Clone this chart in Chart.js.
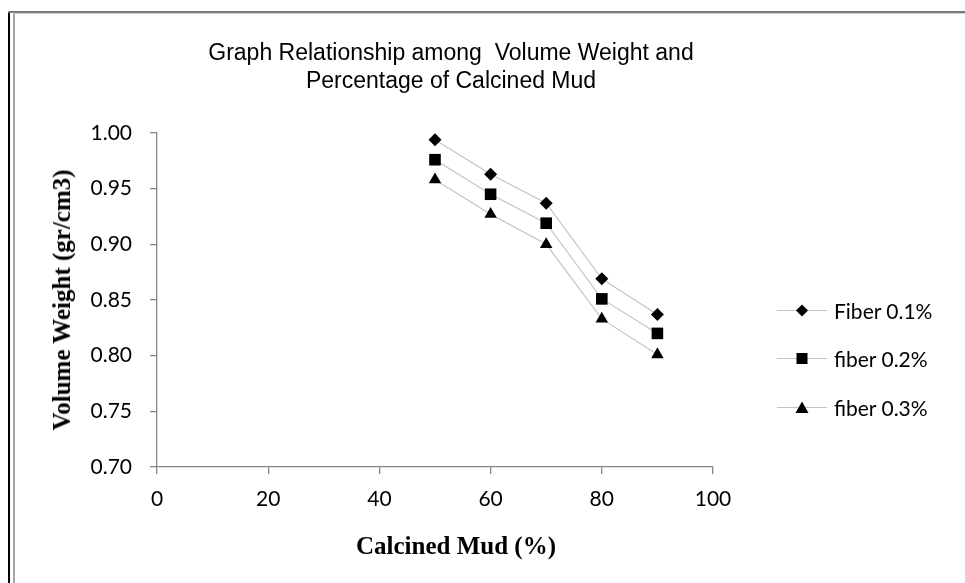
<!DOCTYPE html>
<html>
<head>
<meta charset="utf-8">
<script src="https://cdn.jsdelivr.net/npm/chart.js@4"></script>
<style>
    html, body { margin: 0; padding: 0; background: #fff; }
    #wrap { position: relative; width: 965px; height: 583px; overflow: hidden; }
    #wrap canvas { position: absolute; left: 0; top: 0; }
    .frame { position: absolute; }
    .txt { position: absolute; color: #000; white-space: nowrap; }
    #title { left: 0; width: 902px; top: 38px; text-align: center; font: 23px "Liberation Sans", Arial, sans-serif; line-height: 28px; }
    #xTitle { left: 0; width: 912px; top: 532px; text-align: center; font: bold 25px "Liberation Serif", "Times New Roman", serif; }
    #yTitle { left: 62px; top: 300px; transform: translate(-50%, -50%) rotate(-90deg); font: bold 25px "Liberation Serif", "Times New Roman", serif; }
    #legend { left: 777px; top: 286px; font: 21px Lato, sans-serif; }
    .item { display: flex; align-items: center; height: 48.5px; }
    .item svg { margin-right: 7px; }
</style>
</head>
<body>
<div id="wrap">
    <canvas id="chart" width="965" height="583"></canvas>
    <div class="frame" style="left:8px; top:11px; width:2px; height:572px; background:#000;"></div>
    <div class="frame" style="left:8px; top:11px; width:957px; height:2px; background:#7a7a7a;"></div>
    <div class="frame" style="left:13px; top:13px; width:2px; height:570px; background:#a6a6a6;"></div>
    <div class="frame" style="left:13px; top:13px; width:952px; height:1px; background:#d0d0d0;"></div>
    <div id="title" class="txt">Graph Relationship among&nbsp; Volume Weight and<br>Percentage of Calcined Mud</div>
    <div id="yTitle" class="txt">Volume Weight (gr/cm3)</div>
    <div id="xTitle" class="txt">Calcined Mud (%)</div>
    <div id="legend" class="txt"></div>
</div>
<script>
// calcined mud percentage (x)
const calcinedMud = [50, 60, 70, 80, 90];

// volume weight (gr/cm3) per fiber content
const fiber01 = [0.994, 0.963, 0.937, 0.869, 0.837];
const fiber02 = [0.976, 0.945, 0.919, 0.851, 0.820];
const fiber03 = [0.958, 0.927, 0.900, 0.833, 0.801];

const seriesNames = ['Fiber 0.1%', 'fiber 0.2%', 'fiber 0.3%'];

const xTicks = [0, 20, 40, 60, 80, 100];
const yTicks = [0.70, 0.75, 0.80, 0.85, 0.90, 0.95, 1.00];

const lineColor = '#c4c4c4';
const axisColor = '#868686';

function toPoints(values) {
    return calcinedMud.map((x, i) => ({ x: x, y: values[i] }));
}

const markers = [
    { style: 'rectRot', radius: 6.5 },
    { style: 'rect', radius: 8.2 },
    { style: 'triangle', radius: 7.2 }
];

const datasets = [fiber01, fiber02, fiber03].map((vals, i) => ({
    label: seriesNames[i],
    data: toPoints(vals),
    borderColor: lineColor,
    borderWidth: 1.2,
    pointStyle: markers[i].style,
    pointRadius: markers[i].radius,
    pointBackgroundColor: '#000',
    pointBorderColor: '#000',
    pointBorderWidth: 0,
    tension: 0
}));

const ctx = document.getElementById('chart');

new Chart(ctx, {
    type: 'line',
    data: { datasets },
    options: {
        responsive: false,
        animation: false,
        events: [],
        layout: { padding: { left: 60, right: 252, top: 133, bottom: 71 } },
        plugins: {
            legend: { display: false },
            tooltip: { enabled: false },
            title: { display: false }
        },
        scales: {
            x: {
                type: 'linear',
                min: 0,
                max: 100,
                afterBuildTicks: (scale) => { scale.ticks = xTicks.map(v => ({ value: v })); },
                afterFit: (scale) => { scale.height = 45; },
                grid: { drawOnChartArea: false, drawTicks: true, tickLength: 7, color: axisColor, lineWidth: 1.3 },
                border: { color: axisColor, width: 1.3 },
                ticks: { color: '#000', padding: 13, font: { family: 'Lato', size: 21 }, maxRotation: 0 }
            },
            y: {
                type: 'linear',
                min: 0.70,
                max: 1.00,
                afterBuildTicks: (scale) => { scale.ticks = yTicks.map(v => ({ value: v })); },
                afterFit: (scale) => { scale.width = 97; },
                grid: { drawOnChartArea: false, drawTicks: true, tickLength: 7, color: axisColor, lineWidth: 1.3 },
                border: { color: axisColor, width: 1.3 },
                ticks: {
                    color: '#000',
                    padding: 18,
                    font: { family: 'Lato', size: 21 },
                    callback: (v) => Number(v).toFixed(2)
                }
            }
        }
    }
});

// legend: grey line with the marker in the middle, then the label
const markerSvg = [
    '<polygon points="25,3.5 31,9.5 25,15.5 19,9.5" fill="#000"/>',
    '<rect x="19.5" y="4" width="11" height="11" fill="#000"/>',
    '<polygon points="25,3.5 31.5,15 18.5,15" fill="#000"/>'
];
const legendEl = document.getElementById('legend');
seriesNames.forEach((name, i) => {
    const row = document.createElement('div');
    row.className = 'item';
    row.innerHTML = '<svg width="50" height="19"><line x1="0" y1="9.5" x2="50" y2="9.5" stroke="' + lineColor + '" stroke-width="1.2"/>' +
        markerSvg[i] + '</svg><span>' + name + '</span>';
    legendEl.appendChild(row);
});
</script>
</body>
</html>
